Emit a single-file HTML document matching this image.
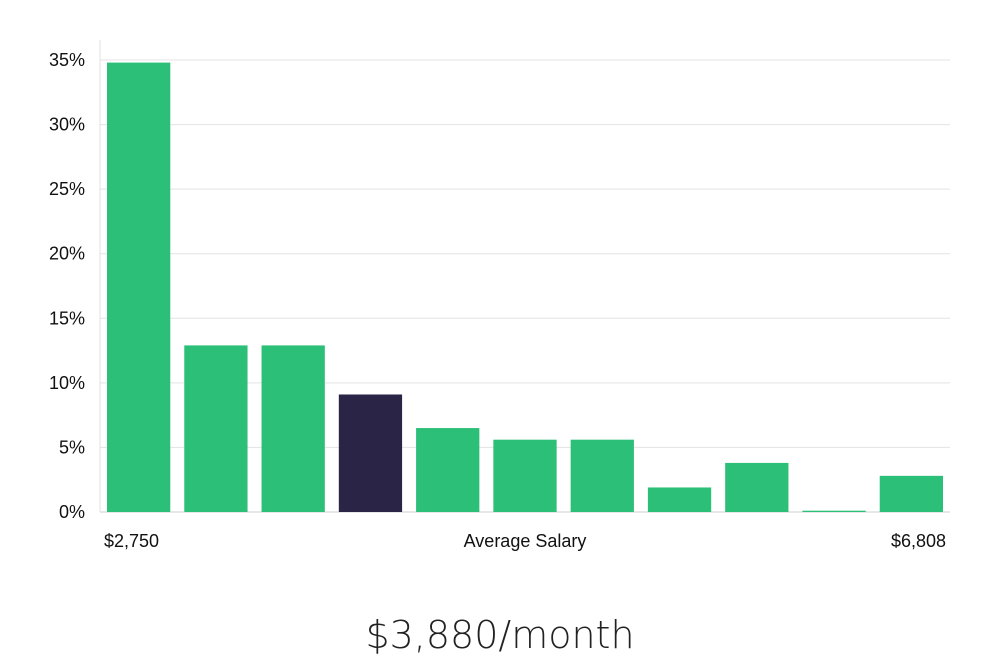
<!DOCTYPE html>
<html><head><meta charset="utf-8"><style>
body{margin:0;background:#fff;width:1000px;height:660px;overflow:hidden;font-family:"Liberation Sans","DejaVu Sans",sans-serif;}
svg{display:block}
</style></head><body>
<svg width="1000" height="660" xmlns="http://www.w3.org/2000/svg">
<g id="grid"></g><g id="bars"></g><g id="ylabels"></g>
<line x1="100" y1="40" x2="100" y2="512" stroke="#e0e0e0" stroke-width="1"/>
<text x="104" y="547" font-size="18" fill="#111">$2,750</text>
<text x="525" y="547" font-size="18" fill="#111" text-anchor="middle">Average Salary</text>
<text x="946" y="547" font-size="18" fill="#111" text-anchor="end">$6,808</text>
<text x="500" y="648" font-size="38" fill="#222" text-anchor="middle" font-family="'DejaVu Sans','Liberation Sans',sans-serif" font-weight="300">$3,880/month</text>
</svg>
<script>
const categories=["b1","b2","b3","b4","b5","b6","b7","b8","b9","b10","b11"];
const values=[34.8,12.9,12.9,9.1,6.5,5.6,5.6,1.9,3.8,0.1,2.8];
const highlightIndex=3;
const yTicks=[0,5,10,15,20,25,30,35];
const yTickLabels=["0%","5%","10%","15%","20%","25%","30%","35%"];
const NS="http://www.w3.org/2000/svg";
const x0=100,x1=950,yBase=512,yTop=60,yMax=35;
function y(v){return yBase-(v/yMax)*(yBase-yTop);}
const band=(x1-x0)/categories.length;
function x(i){return x0+i*band;}
const grid=document.getElementById('grid'),bars=document.getElementById('bars'),yl=document.getElementById('ylabels');
yTicks.forEach((t,i)=>{
 const l=document.createElementNS(NS,'line');
 l.setAttribute('x1',x0);l.setAttribute('x2',x1);l.setAttribute('y1',y(t));l.setAttribute('y2',y(t));
 l.setAttribute('stroke',i===0?'#cfcfcf':'#e3e3e3');l.setAttribute('stroke-width','1');
 
 
 grid.appendChild(l);
 const tx=document.createElementNS(NS,'text');
 tx.setAttribute('x',85);tx.setAttribute('y',y(t)+6);tx.setAttribute('text-anchor','end');
 tx.setAttribute('font-size','18');tx.setAttribute('fill','#111');tx.textContent=yTickLabels[i];
 
 
 yl.appendChild(tx);
});
values.forEach((v,i)=>{
 const r=document.createElementNS(NS,'rect');
 const bw=band-14;
 r.setAttribute('x',x(i)+7);r.setAttribute('y',y(v));r.setAttribute('width',bw);
 r.setAttribute('height',Math.max(1,yBase-y(v)));
 r.setAttribute('fill',i===highlightIndex?'#2a2547':'#2bbf77');
 
 
 bars.appendChild(r);
});
</script>
</body></html>
